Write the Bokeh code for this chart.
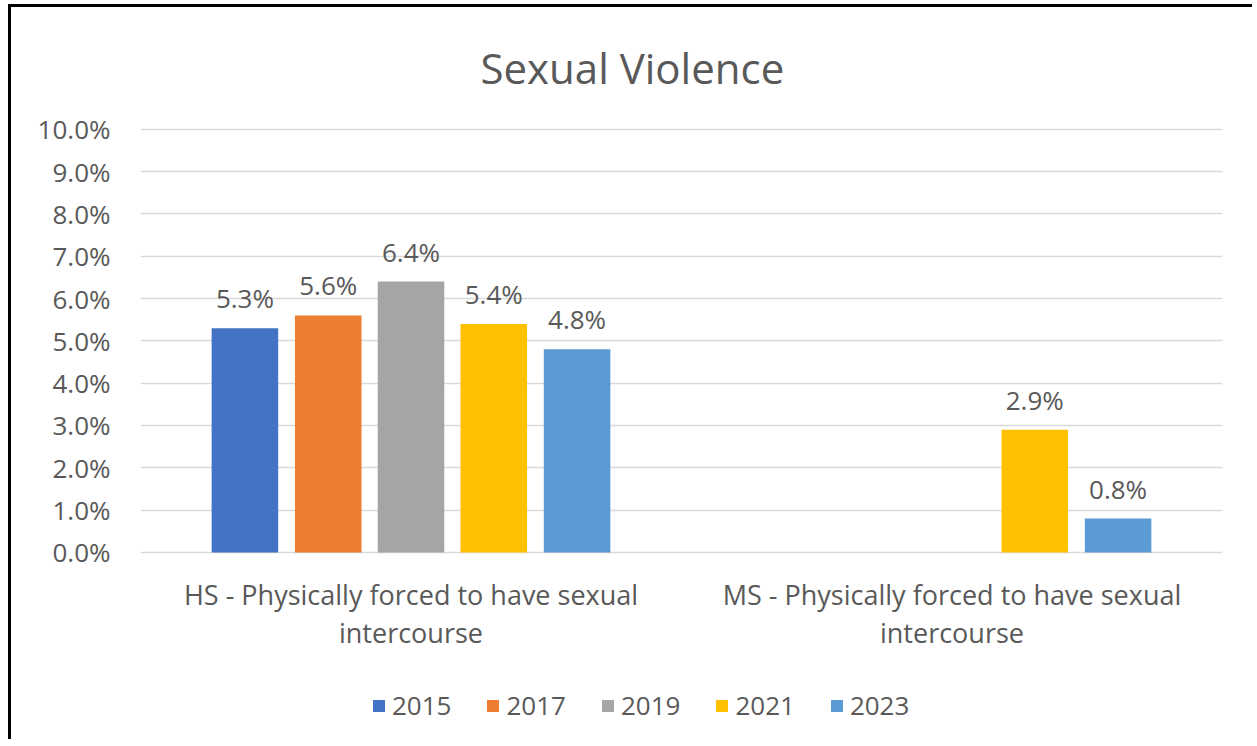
from bokeh.plotting import figure
from bokeh.models import ColumnDataSource, FactorRange, PrintfTickFormatter, Legend, LegendItem
from bokeh.transform import dodge
from bokeh.core.properties import value
from bokeh.embed import file_html
from bokeh.resources import INLINE

categories = ["HS - Physically forced to have sexual\nintercourse",
              "MS - Physically forced to have sexual\nintercourse"]
years = ["2015", "2017", "2019", "2021", "2023"]
v2015 = [5.3, float("nan")]
v2017 = [5.6, float("nan")]
v2019 = [6.4, float("nan")]
v2021 = [5.4, 2.9]
v2023 = [4.8, 0.8]
colors = ["#4472C4", "#ED7D31", "#A5A5A5", "#FFC000", "#5B9BD5"]
y_ticks = [0, 1, 2, 3, 4, 5, 6, 7, 8, 9, 10]

series = [v2015, v2017, v2019, v2021, v2023]
FONT = "Open Sans"
GRAY = "#595959"

# frame extends below the 0% line to host the category labels and legend
p = figure(frame_width=1082, frame_height=607, output_backend="svg", toolbar_location=None,
           x_range=FactorRange(*categories, range_padding=0), y_range=(-4.3, 10.04),
           min_border_left=129, min_border_right=30, min_border_top=120, min_border_bottom=5,
           title="Sexual Violence")
p.styles = {"border-left": "3px solid black", "border-top": "3px solid black",
            "margin-left": "8px", "margin-top": "4px"}
p.outline_line_color = None
p.title.align = "left"
p.title.offset = 340
p.title.vertical_align = "top"
p.title.text_font = FONT
p.title.text_font_size = "42px"
p.title.text_font_style = "normal"
p.title.text_color = GRAY
p.title.standoff = 59

p.xaxis.visible = False
p.xgrid.grid_line_color = None
p.ygrid.grid_line_color = "#d9d9d9"
p.ygrid.grid_line_width = 1.6
p.yaxis.ticker = y_ticks
p.yaxis.formatter = PrintfTickFormatter(format="%.1f%%")
p.yaxis.axis_line_color = None
p.yaxis.major_tick_line_color = None
p.yaxis.minor_tick_line_color = None
p.yaxis.major_tick_out = 0
p.yaxis.major_label_text_font = FONT
p.yaxis.major_label_text_font_size = "26px"
p.yaxis.major_label_text_color = GRAY
p.yaxis.major_label_standoff = 30

# category labels under the 0% baseline
cat_src = ColumnDataSource(dict(cat=categories, base=[0] * len(categories)))
p.text(x="cat", y="base", text="cat", source=cat_src, text_align="center",
       text_baseline="middle", y_offset=61, text_line_height=1.035,
       text_font=value(FONT), text_font_size="27px", text_color=GRAY)

offsets = [-0.307, -0.153, 0.0, 0.153, 0.307]
items = []
for yr, vals, col, off in zip(years, series, colors, offsets):
    labels = ["" if v != v else f"{v:.1f}%" for v in vals]
    src = ColumnDataSource(dict(cat=categories, val=vals, lab=labels,
                                ly=[0 if v != v else v for v in vals]))
    r = p.vbar(x=dodge("cat", off, range=p.x_range), top="val", width=0.123,
               source=src, fill_color=col, line_color=None)
    p.text(x=dodge("cat", off, range=p.x_range), y="ly", text="lab", source=src,
           text_align="center", text_baseline="bottom", y_offset=-12,
           text_font=value(FONT), text_font_size="26px", text_color=GRAY)
    items.append(LegendItem(label=yr, renderers=[r]))

legend = Legend(items=items, orientation="horizontal", location=(231, 11),
                label_text_font=FONT, label_text_font_size="26px", label_text_color=GRAY,
                glyph_width=15, glyph_height=15, label_standoff=6, spacing=34,
                border_line_color=None, background_fill_alpha=0, margin=0, padding=0)
p.add_layout(legend, "center")

open("out.html", "w").write(file_html(p, INLINE))
